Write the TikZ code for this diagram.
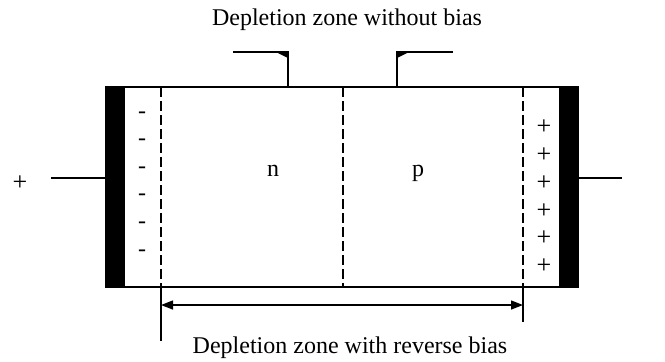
\documentclass[tikz,border=0pt]{standalone}
\usepackage{fontspec}
\setmainfont{Liberation Serif}
\usetikzlibrary{arrows.meta}
\tikzset{wire/.style={line width=0.7pt},
         zone/.style={line width=0.7pt,dash pattern=on 5pt off 2pt},
         lbl/.style={anchor=base,inner sep=0pt}}

\begin{document}
\begin{tikzpicture}[x=0.5pt,y=-0.5pt,font=\fontsize{12}{14}\selectfont]
\useasboundingbox (0,0) rectangle (665,361);
% metal contacts
\fill (106,87) rectangle (125,287);
\fill (559,87) rectangle (578,287);

% diode body
\draw[wire] (106,87) rectangle (578,287);

% leads
\coordinate (lin) at (51,178);
\coordinate (lc) at (106,178);
\coordinate (rc) at (578,178);
\coordinate (rout) at (622,178);
\draw[wire] (lin)--(lc);
\draw[wire] (rc)--(rout);
\node[lbl,font=\fontsize{13}{15}\selectfont] (pol) at (20,190) {+};

% zone boundaries
\foreach \x in {161,343,523}
\draw[zone] (\x,87)--(\x,287);

% charges
\foreach \y in {118,145,173,200,228,256}
\node[lbl] at (142,\y) {-};
\foreach \y in {134,162,190,218,245,273}
\node[lbl,font=\fontsize{13}{15}\selectfont] at (544,\y) {+};

% regions
\node[lbl] (n) at (273,176) {n};
\node[lbl] (p) at (418,176) {p};

% depletion zone without bias
\node[lbl] (nobias) at (347,25) {Depletion zone without bias};
\draw[wire] (233,52)--(288,52)--(288,87);
\fill (276,52)--(288,52)--(288,58)--cycle;
\draw[wire] (453,52)--(397,52)--(397,87);
\fill (409,52)--(397,52)--(397,58)--cycle;

% depletion zone with reverse bias
\coordinate (za) at (161,305);
\coordinate (zb) at (523,305);
\draw[wire] (161,287)--(161,341);
\draw[wire] (523,287)--(523,322);
\draw[wire,{Triangle[length=6pt,width=4.5pt]}-{Triangle[length=6pt,width=4.5pt]}] (za)--(zb);
\node[lbl] (rbias) at (350,353) {Depletion zone with reverse bias};
\end{tikzpicture}
\end{document}
